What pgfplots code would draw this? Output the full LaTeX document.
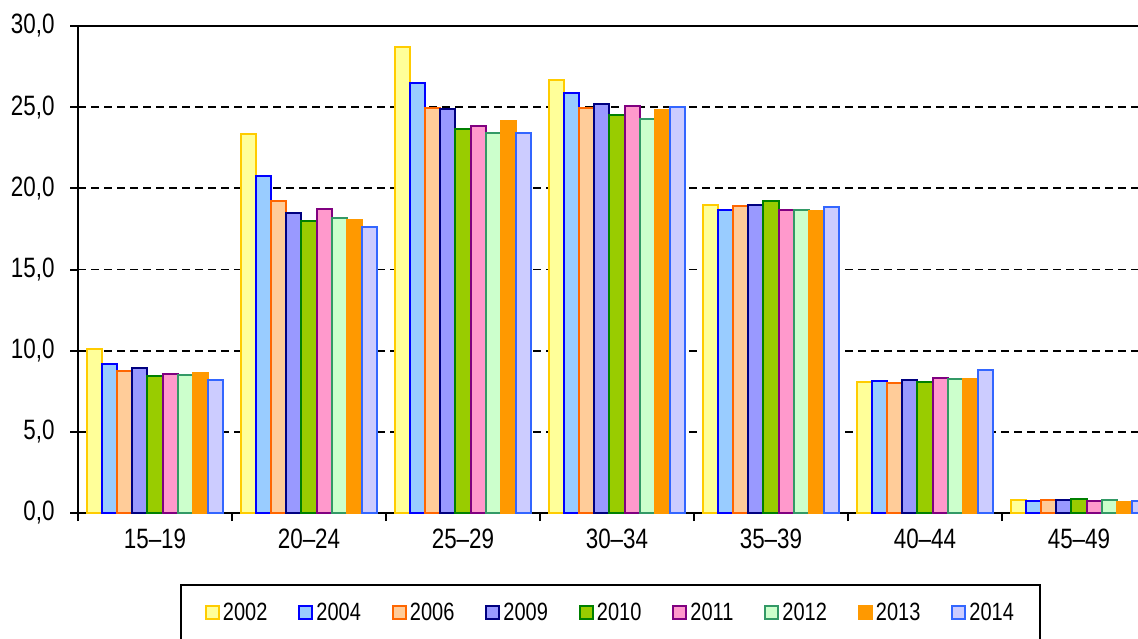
\documentclass[border=0pt]{standalone}
\usepackage{fontspec}
\setmainfont{Liberation Sans}[FakeStretch=0.8]
\usepackage{pgfplots}
\usepackage{pgfplotstable}
\pgfplotsset{compat=1.18}
\definecolor{f02}{HTML}{FFFF99}\definecolor{d02}{HTML}{FFCC00}
\definecolor{f04}{HTML}{99CCFF}\definecolor{d04}{HTML}{0000FF}
\definecolor{f06}{HTML}{FFCC99}\definecolor{d06}{HTML}{FF6600}
\definecolor{f09}{HTML}{9999FF}\definecolor{d09}{HTML}{000080}
\definecolor{f10}{HTML}{99CC00}\definecolor{d10}{HTML}{008000}
\definecolor{f11}{HTML}{FF99CC}\definecolor{d11}{HTML}{800080}
\definecolor{f12}{HTML}{CCFFCC}\definecolor{d12}{HTML}{339966}
\definecolor{f13}{HTML}{FF9900}\definecolor{d13}{HTML}{FF9900}
\definecolor{f14}{HTML}{CCCCFF}\definecolor{d14}{HTML}{3366FF}
\pgfplotstableread{
x  a02   a04   a06   a09   a10   a11   a12   a13   a14
0  10.12 9.19  8.72  8.94  8.41  8.57  8.53  8.64  8.21
1  23.35 20.73 19.19 18.50 17.97 18.70 18.15 18.02 17.59
2  28.70 26.47 24.97 24.90 23.67 23.86 23.38 24.14 23.40
3  26.65 25.85 24.94 25.19 24.49 25.09 24.27 24.80 24.99
4  18.95 18.64 18.90 18.99 19.24 18.68 18.64 18.58 18.84
5  8.04  8.14  8.02  8.18  8.10  8.29  8.23  8.23  8.84
6  0.78  0.72  0.78  0.80  0.86  0.76  0.82  0.70  0.76
}\datatable
\pgfplotsset{sq/.style={legend image code/.code={\draw[##1, line width=2pt] (0pt,-6.5pt) rectangle (13pt,6.5pt);\path[draw=none,fill=none] (0pt,0pt) -- (15pt,0pt);}}}
\begin{document}
\begin{tikzpicture}
\useasboundingbox (0,0) rectangle (1138pt,-638pt);
\clip (0,0) rectangle (1138pt,-638pt);
\begin{axis}[
  at={(78pt,-513pt)}, anchor=south west,
  scale only axis, width=1078pt, height=487pt,
  xmin=-0.5, xmax=6.5, ymin=0, ymax=30,
  axis x line*=bottom, axis y line*=left,
  axis line style={-, black, line width=2pt},
  ytick={0,5,...,25},
  extra y ticks={30},
  extra y tick style={grid style={solid, black, line width=2pt}},
  ymajorgrids,
  grid style={black, line width=1.8pt, dash pattern=on 8pt off 5pt},
  xtick={-0.5,0.5,...,6.5}, xticklabels={},
  extra x ticks={0,1,2,3,4,5,6},
  extra x tick labels={15–19,20–24,25–29,30–34,35–39,40–44,45–49},
  extra x tick style={major tick length=0pt, xticklabel style={yshift=-12pt}},
  ybar=0pt, bar width=15.1pt,
  tick align=outside, tick pos=left,
  major tick length=8pt,
  tick style={black, line width=2pt},
  /pgf/number format/.cd, fixed, fixed zerofill, precision=1, use comma, assume math mode=true,
  /pgfplots/.cd,
  ticklabel style={font=\fontsize{28}{30}\selectfont},
  yticklabel style={xshift=-12pt},
  legend columns=9,
  legend style={at={(0.0946,-0.1458)}, anchor=north west, draw=black, line width=2pt,
    font=\fontsize{25}{27}\selectfont, inner xsep=24pt, inner ysep=16pt,
    /tikz/every even column/.append style={column sep=29pt}},
]
\addplot[fill=f02, draw=d02, line width=2pt, sq] table[x=x,y=a02]{\datatable};
\addplot[fill=f04, draw=d04, line width=2pt, sq] table[x=x,y=a04]{\datatable};
\addplot[fill=f06, draw=d06, line width=2pt, sq] table[x=x,y=a06]{\datatable};
\addplot[fill=f09, draw=d09, line width=2pt, sq] table[x=x,y=a09]{\datatable};
\addplot[fill=f10, draw=d10, line width=2pt, sq] table[x=x,y=a10]{\datatable};
\addplot[fill=f11, draw=d11, line width=2pt, sq] table[x=x,y=a11]{\datatable};
\addplot[fill=f12, draw=d12, line width=2pt, sq] table[x=x,y=a12]{\datatable};
\addplot[fill=f13, draw=d13, line width=2pt, sq] table[x=x,y=a13]{\datatable};
\addplot[fill=f14, draw=d14, line width=2pt, sq] table[x=x,y=a14]{\datatable};
\legend{2002,2004,2006,2009,2010,2011,2012,2013,2014}
\end{axis}
\end{tikzpicture}
\end{document}
